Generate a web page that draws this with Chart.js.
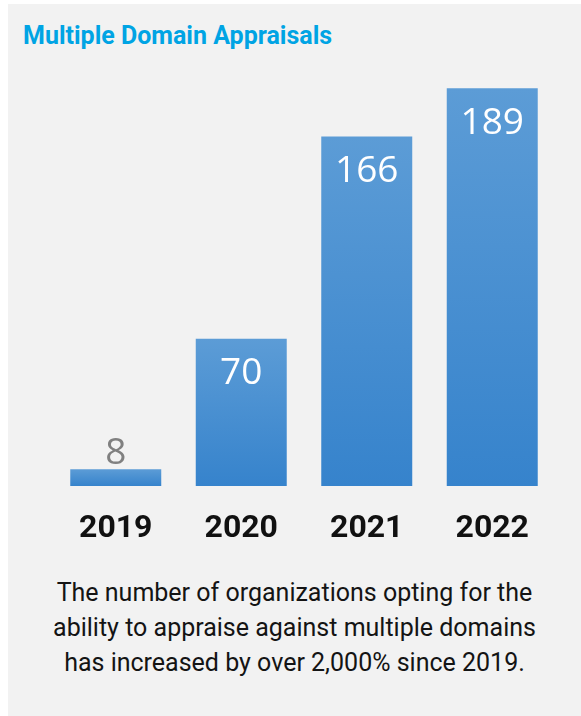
<!DOCTYPE html>
<html>
<head>
<meta charset="utf-8">
<script src="https://cdn.jsdelivr.net/npm/chart.js@4.4.0/dist/chart.umd.min.js"></script>
<style>
  html, body { margin: 0; padding: 0; background: #ffffff; width: 581px; height: 716px; overflow: hidden; }
  #panel { position: absolute; left: 8px; top: 4px; width: 573px; height: 712px; background: #f2f2f2; }
  #title { position: absolute; left: 23px; top: 21px; font-family: Roboto, sans-serif; font-weight: 700; font-size: 25px; color: #00a4e4; white-space: nowrap; line-height: 30px; }
  #chartbox { position: absolute; left: 0; top: 0; width: 581px; height: 560px; }
  #footer { position: absolute; left: 8px; top: 575px; width: 573px; text-align: center; font-family: Roboto, sans-serif; font-size: 25px; line-height: 35px; color: #141414; }
</style>
</head>
<body>
<div id="panel"></div>
<div id="title">Multiple Domain Appraisals</div>
<div id="chartbox"><canvas id="c" width="581" height="560"></canvas></div>
<div id="footer">The number of organizations opting for the<br>ability to appraise against multiple domains<br>has increased by over 2,000% since 2019.</div>
<script>
const categories = ["2019", "2020", "2021", "2022"];
const values = [8, 70, 166, 189];

const topColor = "#5c9cd6";
const bottomColor = "#3683cc";

const valueLabels = {
  id: "valueLabels",
  afterDatasetsDraw(chart) {
    const c = chart.ctx;
    const meta = chart.getDatasetMeta(0);
    c.save();
    c.font = "400 37px 'Open Sans', sans-serif";
    c.textAlign = "center";
    c.textBaseline = "middle";
    meta.data.forEach((bar, i) => {
      const h = bar.base - bar.y;
      if (h > 60) {
        c.fillStyle = "#ffffff";
        c.fillText(String(values[i]), bar.x, bar.y + 35);
      } else {
        c.fillStyle = "#808080";
        c.fillText(String(values[i]), bar.x, bar.y - 16);
      }
    });
    c.restore();
  }
};

new Chart(document.getElementById("c"), {
  type: "bar",
  data: {
    labels: categories,
    datasets: [{
      data: values,
      backgroundColor: (ctx) => {
        const chart = ctx.chart;
        if (!chart.chartArea || ctx.raw === undefined) return bottomColor;
        const ys = chart.scales.y;
        const t = ys.getPixelForValue(ctx.raw);
        const b = ys.getPixelForValue(0);
        const g = chart.ctx.createLinearGradient(0, t, 0, b);
        g.addColorStop(0, topColor);
        g.addColorStop(1, bottomColor);
        return g;
      },
      borderWidth: 0,
      categoryPercentage: 1.0,
      barPercentage: 0.725
    }]
  },
  options: {
    responsive: false,
    animation: false,
    events: [],
    layout: { padding: { left: 53, right: 26, top: 65, bottom: 0 } },
    plugins: { legend: { display: false }, tooltip: { enabled: false }, title: { display: false } },
    scales: {
      x: {
        grid: { display: false, drawTicks: false },
        border: { display: false },
        ticks: {
          color: "#111111",
          padding: 24,
          font: { family: "Roboto", weight: "700", size: 32 }
        },
        afterFit(scale) { scale.height = 74; }
      },
      y: {
        display: false,
        min: 0,
        max: 200
      }
    }
  },
  plugins: [valueLabels]
});
</script>
</body>
</html>
